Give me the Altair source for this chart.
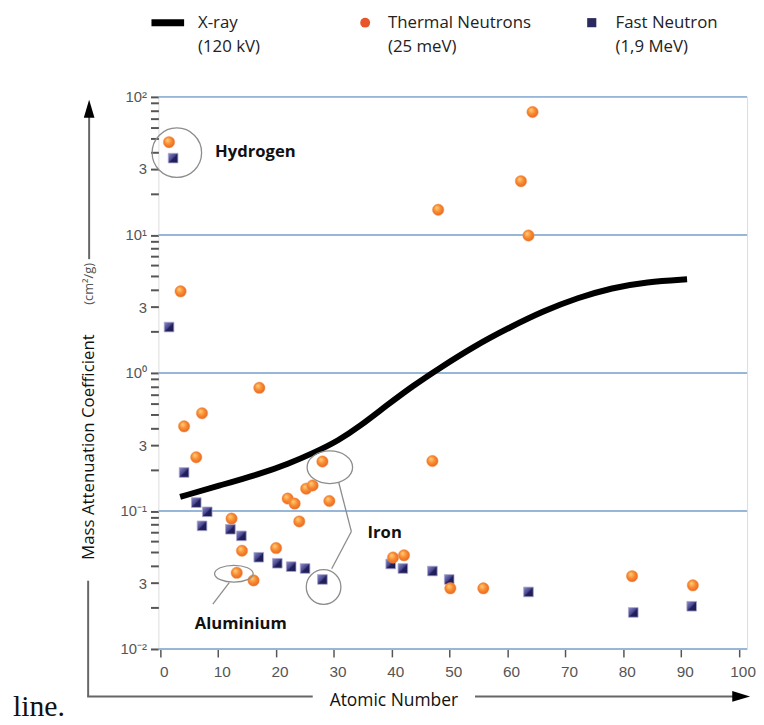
import altair as alt
import pandas as pd

# ---------------- data ----------------
thermal_z = [1.5, 3.5, 4.1, 6.2, 7.2, 17.1, 12.3, 14.1, 13.2, 16.1, 20.0, 22.0, 23.2, 24.0,
             25.2, 26.3, 28.0, 29.2, 40.2, 42.1, 47.0, 48.0, 50.1, 55.8, 62.3, 63.6, 64.3, 81.5, 92.0]
thermal_mu = [47, 3.9, 0.41, 0.245, 0.51, 0.78, 0.088, 0.0515, 0.0356, 0.0314, 0.0538, 0.123, 0.113, 0.084,
              0.145, 0.153, 0.228, 0.118, 0.046, 0.0477, 0.23, 15.2, 0.0275, 0.0275, 24.5, 9.9, 77.7, 0.0337, 0.0289]

fast_z = [2.2, 1.5, 4.1, 6.2, 8.1, 7.2, 12.1, 14.0, 17.0, 20.2, 22.6, 25.0, 28.0,
          39.8, 41.9, 47.0, 49.9, 63.6, 81.7, 91.8]
fast_mu = [36, 2.15, 0.19, 0.115, 0.0986, 0.078, 0.0737, 0.066, 0.0462, 0.0418, 0.0395, 0.0383, 0.0319,
           0.0413, 0.0383, 0.0367, 0.0319, 0.0259, 0.0184, 0.0204]

xray_z = [3.42, 10.26, 17.26, 22.05, 26.67, 30.77, 34.36, 39.15, 43.76, 47.86, 54.36, 60.34,
          66.15, 72.14, 78.03, 84.0, 91.0]
xray_mu = [0.1264, 0.1531, 0.1857, 0.2192, 0.2656, 0.3237, 0.4074, 0.5839, 0.8124, 1.0595, 1.575, 2.137,
           2.806, 3.507, 4.135, 4.566, 4.773]

decades = [0.01, 0.1, 1, 10, 100]
x_ticks = list(range(0, 101, 10))
y_ticks = [round(m * 10 ** e, 6) for e in range(-2, 2) for m in range(1, 10)] + [100]

# annotations (data space)
ann_labels = ["Hydrogen", "Iron", "Aluminium"]
ann_z = [9.45, 35.8, 5.93]
ann_mu = [39.7, 0.069, 0.0152]

CIRCLE = "M -1 0 A 1 1 0 1 0 1 0 A 1 1 0 1 0 -1 0"
ell_z = [2.85, 12.7, 29.28, 28.2]
ell_mu = [39.4, 0.0351, 0.2074, 0.0281]
ell_shape = [CIRCLE,
             "M -1 0 A 1 0.436 0 1 0 1 0 A 1 0.436 0 1 0 -1 0",
             "M -1 0 A 1 0.717 0 1 0 1 0 A 1 0.717 0 1 0 -1 0",
             CIRCLE]
ell_size = [2500, 1521, 2116, 1225]

lead_z1 = [11.9, 30.8, 33.0]
lead_mu1 = [0.0302, 0.162, 0.0709]
lead_z2 = [9.06, 33.0, 29.6]
lead_mu2 = [0.0211, 0.0709, 0.0381]

# ---------------- scales / axes ----------------
xscale = alt.Scale(domain=[-0.34, 101.37], nice=False, zero=False)
yscale = alt.Scale(type="log", domain=[0.01, 100], nice=False)

label_expr = (
    "abs(datum.value-100)<0.5 ? '10²' : abs(datum.value-10)<0.05 ? '10¹' : "
    "abs(datum.value-1)<0.005 ? '10⁰' : abs(datum.value-0.1)<0.0005 ? '10⁻¹' : "
    "abs(datum.value-0.01)<0.00005 ? '10⁻²' : "
    "(abs(datum.value-30)<0.05 || abs(datum.value-3)<0.005 || abs(datum.value-0.3)<0.0005 || "
    "abs(datum.value-0.03)<0.00005) ? '3' : ''"
)

xaxis = alt.Axis(values=x_ticks, title=None, domain=False, grid=False, tickColor="#555",
                 tickSize=8, tickWidth=1.5, labelFontSize=15.5, labelColor="#555",
                 labelFont="Liberation Sans", labelPadding=8, labelOffset=3.5)
yaxis = alt.Axis(values=y_ticks, title=None, domain=False, grid=False, tickColor="#555",
                 tickSize=8, tickWidth=2, labelFontSize=15, labelColor="#555",
                 labelFont="Liberation Sans", labelPadding=4, labelExpr=label_expr)

grid = alt.Chart(pd.DataFrame({"v": decades})).mark_rule(color="#97b6d8", strokeWidth=2).encode(
    y=alt.Y("v:Q", scale=yscale, axis=yaxis)
)

xray = alt.Chart(pd.DataFrame({"z": xray_z, "mu": xray_mu})).mark_line(
    color="black", strokeWidth=6, interpolate="basis", strokeCap="butt"
).encode(
    x=alt.X("z:Q", scale=xscale, axis=xaxis),
    y=alt.Y("mu:Q", scale=yscale, axis=yaxis),
)

orange_grad = alt.RadialGradient(
    gradient="radial",
    stops=[alt.GradientStop(color="#ffd27c", offset=0),
           alt.GradientStop(color="#f8892f", offset=0.5),
           alt.GradientStop(color="#e25a20", offset=1)],
    x1=0.35, y1=0.3, r1=0, x2=0.5, y2=0.5, r2=0.62,
)
navy_grad = alt.LinearGradient(
    gradient="linear",
    stops=[alt.GradientStop(color="#8d8bc4", offset=0),
           alt.GradientStop(color="#4a4890", offset=0.45),
           alt.GradientStop(color="#23215e", offset=0.55),
           alt.GradientStop(color="#1c1a50", offset=1)],
    x1=0, y1=0, x2=1, y2=1,
)

fast = alt.Chart(pd.DataFrame({"z": fast_z, "mu": fast_mu})).mark_square(
    size=95, fill=navy_grad, opacity=1, stroke="#a9a7d0", strokeWidth=0.8
).encode(x=alt.X("z:Q", scale=xscale), y=alt.Y("mu:Q", scale=yscale))

thermal = alt.Chart(pd.DataFrame({"z": thermal_z, "mu": thermal_mu})).mark_circle(
    size=135, fill=orange_grad, opacity=1, stroke="#f0a060", strokeWidth=0.5
).encode(x=alt.X("z:Q", scale=xscale), y=alt.Y("mu:Q", scale=yscale))

ellipses = alt.Chart(pd.DataFrame({"z": ell_z, "mu": ell_mu, "shape": ell_shape, "size": ell_size})).mark_point(
    filled=False, color="#8c8c8c", strokeWidth=1.3, opacity=1
).encode(
    x=alt.X("z:Q", scale=xscale), y=alt.Y("mu:Q", scale=yscale),
    shape=alt.Shape("shape:N", scale=None), size=alt.Size("size:Q", scale=None),
)

leaders = alt.Chart(pd.DataFrame({"z1": lead_z1, "m1": lead_mu1, "z2": lead_z2, "m2": lead_mu2})).mark_rule(
    color="#8c8c8c", strokeWidth=1.3
).encode(
    x=alt.X("z1:Q", scale=xscale), y=alt.Y("m1:Q", scale=yscale), x2="z2:Q", y2="m2:Q"
)

labels = alt.Chart(pd.DataFrame({"z": ann_z, "mu": ann_mu, "t": ann_labels})).mark_text(
    align="left", baseline="middle", font="Open Sans", fontWeight="bold", fontSize=16.8, color="#111"
).encode(x=alt.X("z:Q", scale=xscale), y=alt.Y("mu:Q", scale=yscale), text="t:N")

# ---------------- pixel-space decorations ----------------
one = alt.Data(values=[{"a": 1}])


def ptext(txt, x, y, size=17, color="#222", weight="normal", angle=0, align="left",
          font="Open Sans", baseline="middle"):
    return alt.Chart(one).mark_text(
        text=txt, fontSize=size, color=color, fontWeight=weight, angle=angle,
        align=align, baseline=baseline, font=font
    ).encode(x=alt.value(x), y=alt.value(y))


def prule(x, y, x2, y2, color="#666", width=2):
    return alt.Chart(one).mark_rule(color=color, strokeWidth=width, strokeCap="butt").encode(
        x=alt.value(x), y=alt.value(y), x2=alt.value(x2), y2=alt.value(y2)
    )


def psym(x, y, shape, size, color):
    return alt.Chart(one).mark_point(shape=shape, size=size, filled=True, color=color, opacity=1).encode(
        x=alt.value(x), y=alt.value(y)
    )


deco = [
    # legend
    prule(-7, -75, 26, -75, color="black", width=7),
    ptext("X-ray", 40, -75),
    ptext("(120 kV)", 40, -50),
    psym(209, -75, "circle", 100, "#e8552a"),
    ptext("Thermal Neutrons", 232, -75),
    ptext("(25 meV)", 232, -50),
    psym(438, -75, "square", 85, "#2a2a5e"),
    ptext("Fast Neutron", 462, -75),
    ptext("(1,9 MeV)", 462, -50),
    # y axis title + arrow
    ptext("Mass Attenuation Coefficient", -70, 354, size=17, color="#111", angle=270, align="center"),
    ptext("(cm²/g)", -70, 189, size=13, color="#555", angle=270, align="center"),
    prule(-70, 16, -70, 164, color="#666", width=2),
    psym(-70, 12, "M 0 -1 L 0.6 1 L -0.6 1 Z", 324, "black"),
    # frame lines + x title + arrow
    prule(-71, 489, -71, 606, color="#666", width=2),
    prule(-72, 606, 156, 606, color="#666", width=2),
    ptext("Atomic Number", 238, 611, size=17.6, color="#111", align="center"),
    prule(320, 606, 585, 606, color="#666", width=2),
    psym(589, 606, "M 1 0 L -1 0.6 L -1 -0.6 Z", 324, "black"),
    # stray text
    ptext("line.", -147, 626, size=30, color="#111", font="Liberation Serif", baseline="alphabetic"),
]

chart = alt.layer(grid, xray, fast, thermal, ellipses, leaders, labels, *deco).properties(
    width=595, height=558,
    autosize=alt.AutoSizeParams(type="none"),
    padding={"left": 152, "top": 86, "right": 9, "bottom": 72},
).configure_view(stroke=None).configure(background="white")

chart.save("out.html", embed_options={"renderer": "svg", "actions": False})
